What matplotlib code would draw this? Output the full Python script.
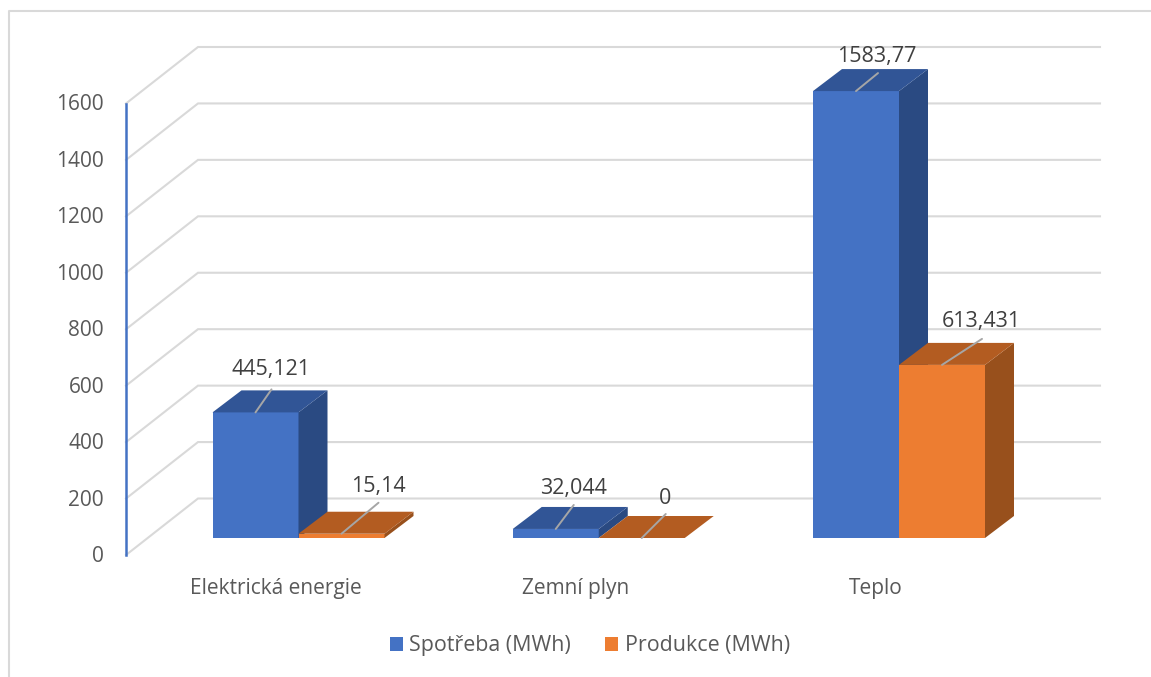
import numpy as np
import matplotlib
matplotlib.use('Agg')
import matplotlib.pyplot as plt

categories = ['Elektrická energie', 'Zemní plyn', 'Teplo']
spotreba = [445.121, 32.044, 1583.77]
produkce = [15.14, 0, 613.431]
spotreba_labels = ['445,121', '32,044', '1583,77']
produkce_labels = ['15,14', '0', '613,431']
y_ticks = [0, 200, 400, 600, 800, 1000, 1200, 1400, 1600]

W, H = 1151, 677
x_scale = 300.25   # px per category
y_scale = 451.5 / 1600   # px per MWh
x_zero = 298.5
y_zero = 538

plt.rcParams['font.family'] = ['Open Sans', 'DejaVu Sans']

fig = plt.figure(figsize=(W / 100, H / 100), dpi=100)
ax = fig.add_axes([0, 0, 1, 1])
ax.set_xlim(-x_zero / x_scale, (W - x_zero) / x_scale)
ax.set_ylim(-(H - y_zero) / y_scale, y_zero / y_scale)
ax.axis('off')


def px_x(p):
    return p / x_scale


def px_y(p):
    return p / y_scale


# chart border, only top and left show up
grid_col = '#D9D9D9'
fig.add_artist(plt.Line2D([9 / W, 9 / W, 1], [0, 1 - 11 / H, 1 - 11 / H], color=grid_col, lw=1.5))

# walls
front_x = (126 - x_zero) / x_scale
back_x = (198 - x_zero) / x_scale
end_x = (1100 - x_zero) / x_scale
front_shift = px_y(-17)
back_shift = px_y(39.5)
for t in y_ticks:
    ax.plot([front_x, back_x, end_x], [t + front_shift, t + back_shift, t + back_shift],
            color=grid_col, lw=1.5, zorder=1, solid_joinstyle='miter')
    ax.text(front_x - px_x(22), t + front_shift + px_y(1), str(t), ha='right', va='center_baseline',
            fontsize=15, color='#595959')
ax.plot([front_x, front_x], [y_ticks[0] + front_shift, y_ticks[-1] + front_shift],
        color='#4472C4', lw=1.8, zorder=2)

# bars
bar_w = px_x(86)
depth_x = px_x(29)
depth_y = px_y(22)


def bar3d(x, v, front, side, top, label):
    h = ax.bar(x, v, bar_w, align='edge', color=front, zorder=3, label=label)
    for xi, vi in zip(x, v):
        ax.fill([xi + bar_w, xi + bar_w + depth_x, xi + bar_w + depth_x, xi + bar_w],
                [0, depth_y, vi + depth_y, vi], color=side, lw=0, zorder=3)
        ax.fill([xi, xi + depth_x, xi + bar_w + depth_x, xi + bar_w],
                [vi, vi + depth_y, vi + depth_y, vi], color=top, lw=0, zorder=3)
    return h


pos = np.arange(len(categories))
h1 = bar3d(pos - bar_w, spotreba, '#4472C4', '#2A4A82', '#315596', 'Spotřeba (MWh)')
h2 = bar3d(pos, produkce, '#ED7D31', '#98501C', '#B35C21', 'Produkce (MWh)')

# data labels with leader lines, offsets in px from top of the bar front
spotreba_leader = [(16, 23), (18, 24), (22, 18)]
produkce_leader = [(37, 31), (24, 24), (40, 26)]
spotreba_text = [(16, 45), (18, 43), (21, 37)]
produkce_text = [(37, 50), (23, 42), (39, 46)]


def labels(x, v, texts, leader, text_off):
    for xi, vi, s, ld, tx in zip(x, v, texts, leader, text_off):
        ax.annotate('', xy=(xi, vi), xytext=ld, textcoords='offset pixels', zorder=5,
                    arrowprops=dict(arrowstyle='-', color='#A6A6A6', lw=1.4, shrinkA=0, shrinkB=0))
        ax.annotate(s, xy=(xi, vi), xytext=tx, textcoords='offset pixels', ha='center',
                    va='center_baseline', fontsize=15.5, color='#404040', zorder=6)


labels(pos - bar_w / 2, spotreba, spotreba_labels, spotreba_leader, spotreba_text)
labels(pos + bar_w / 2, produkce, produkce_labels, produkce_leader, produkce_text)

for p, c in zip(pos, categories):
    ax.text(p - px_x(23), px_y(-48), c, ha='center', va='center_baseline', fontsize=15, color='#595959')

ax.legend(handles=[h1, h2], loc='center', bbox_to_anchor=(590 / W, 1 - 646 / H), bbox_transform=fig.transFigure,
          ncol=2, frameon=False, fontsize=15.4, labelcolor='#595959', handlelength=0.6, handleheight=0.6,
          handletextpad=0.3, columnspacing=1.6)

fig.savefig('out.png', dpi=100)
